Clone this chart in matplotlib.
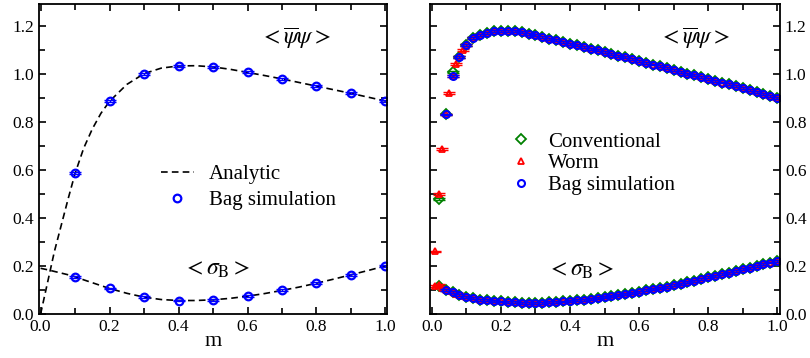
import numpy as np
import matplotlib
matplotlib.use('Agg')
from matplotlib import pyplot
from matplotlib.ticker import MultipleLocator, FormatStrFormatter

#
# data
#

# left panel: analytic curves
m_ana = [0.0, 0.02, 0.04, 0.06, 0.08, 0.10, 0.125, 0.15, 0.175, 0.20, 0.25,
         0.30, 0.35, 0.40, 0.45, 0.50, 0.55, 0.60, 0.65, 0.70, 0.75, 0.80,
         0.85, 0.90, 0.95, 1.00]
psi_ana = [0.0, 0.13, 0.26, 0.37, 0.48, 0.585, 0.69, 0.77, 0.835, 0.885, 0.955,
           1.0, 1.023, 1.032, 1.033, 1.028, 1.018, 1.005, 0.992, 0.978, 0.963,
           0.948, 0.933, 0.918, 0.902, 0.886]
sig_ana = [0.19, 0.184, 0.177, 0.170, 0.163, 0.155, 0.142, 0.130, 0.118, 0.106,
           0.086, 0.070, 0.060, 0.056, 0.056, 0.059, 0.065, 0.074, 0.085, 0.098,
           0.112, 0.128, 0.145, 0.163, 0.181, 0.200]

# left panel: bag simulation
m_bag_l = [0.1, 0.2, 0.3, 0.4, 0.5, 0.6, 0.7, 0.8, 0.9, 1.0]
psi_bag_l = [0.585, 0.885, 1.0, 1.032, 1.028, 1.005, 0.978, 0.948, 0.918, 0.886]
sig_bag_l = [0.155, 0.106, 0.070, 0.056, 0.059, 0.074, 0.098, 0.128, 0.163, 0.200]

# right panel: bag simulation (m = 0.04 ... 1.00, step 0.02)
m_bag_r = [round(0.04 + 0.02 * i, 2) for i in range(49)]
psi_bag_r = [0.83, 0.99, 1.07, 1.12, 1.148, 1.162, 1.170, 1.176, 1.178, 1.178,
             1.176, 1.172, 1.166, 1.160, 1.153, 1.146, 1.139, 1.132, 1.125,
             1.118, 1.111, 1.104, 1.097, 1.090, 1.083, 1.075, 1.068, 1.060,
             1.053, 1.045, 1.038, 1.030, 1.023, 1.015, 1.008, 1.000, 0.993,
             0.985, 0.978, 0.970, 0.963, 0.955, 0.948, 0.940, 0.932, 0.923,
             0.915, 0.906, 0.898]
sig_bag_r = [0.100, 0.090, 0.078, 0.070, 0.065, 0.060, 0.057, 0.054, 0.052,
             0.050, 0.048, 0.047, 0.047, 0.047, 0.047, 0.048, 0.050, 0.052,
             0.054, 0.057, 0.060, 0.063, 0.067, 0.071, 0.075, 0.079, 0.083,
             0.088, 0.093, 0.098, 0.103, 0.109, 0.114, 0.120, 0.126, 0.132,
             0.139, 0.145, 0.152, 0.159, 0.166, 0.172, 0.179, 0.186, 0.193,
             0.200, 0.207, 0.214, 0.222]

# right panel: conventional (m = 0.02 ... 1.00, step 0.02)
m_conv = [0.02] + m_bag_r
psi_conv = [0.48, 0.83, 1.005] + psi_bag_r[2:]
sig_conv = [0.115] + sig_bag_r

# right panel: worm (0.01 ... 0.10 step 0.01, then 0.12 ... 1.00 step 0.02)
m_worm = [0.01, 0.02, 0.03, 0.04, 0.05, 0.06, 0.07, 0.08, 0.09, 0.10] + m_bag_r[4:]
psi_worm = [0.26, 0.50, 0.685, 0.83, 0.92, 0.99, 1.04, 1.07, 1.10, 1.12] + psi_bag_r[4:]
sig_worm = [0.115, 0.12, 0.11, 0.10, 0.095, 0.09, 0.083, 0.078, 0.074, 0.07] + sig_bag_r[4:]

#
# style
#

pyplot.rcParams['font.family'] = ['Liberation Serif', 'DejaVu Serif']
pyplot.rcParams['mathtext.fontset'] = 'stix'

psi_label = r'${<}\overline{\psi}\psi{>}$'
sig_label = r'${<}\sigma_{\rm B}{>}$'


def style_axes(ax, right=False):
    ax.set_xlim(-0.005, 1.005)
    ax.set_ylim(0.0, 1.29)
    ax.xaxis.set_major_locator(MultipleLocator(0.2))
    ax.xaxis.set_minor_locator(MultipleLocator(0.1))
    ax.yaxis.set_major_locator(MultipleLocator(0.2))
    ax.yaxis.set_minor_locator(MultipleLocator(0.1))
    ax.tick_params(which='both', direction='in', top=True, right=True,
                   labelsize=12.5, width=1.2)
    ax.tick_params(which='major', length=5)
    ax.tick_params(which='minor', length=4)
    if right:
        ax.tick_params(labelleft=False, labelright=True)
    ax.xaxis.set_major_formatter(FormatStrFormatter('%.1f'))
    ax.yaxis.set_major_formatter(FormatStrFormatter('%.1f'))
    for s in ax.spines.values():
        s.set_linewidth(1.3)
    ax.set_xlabel('m', fontsize=16, labelpad=-2)


def points(ax, x, y, marker, color, ms, mew, label=None):
    # error bars (tiny) drawn first, markers on top; label only on the markers
    ax.errorbar(x, y, yerr=0.004, fmt='none', ecolor=color, capsize=4,
                elinewidth=1)
    ax.plot(x, y, ls='', marker=marker, ms=ms, mfc='none', mec=color,
            mew=mew, label=label)


#
# figure
#

fig = pyplot.figure(figsize=(8.10, 3.58), dpi=100)
ax1 = fig.add_axes([0.048, 0.123, 0.430, 0.866])
ax2 = fig.add_axes([0.531, 0.123, 0.432, 0.866])

# left panel
ax1.plot(m_ana, psi_ana, color='black', ls=(0, (4, 2.5)), lw=1.2, label='Analytic')
ax1.plot(m_ana, sig_ana, color='black', ls=(0, (4, 2.5)), lw=1.2)
points(ax1, m_bag_l, psi_bag_l, 'o', 'blue', 5.5, 1.6, 'Bag simulation')
points(ax1, m_bag_l, sig_bag_l, 'o', 'blue', 5.5, 1.6)
ax1.text(0.74, 1.15, psi_label, fontsize=17, ha='center', va='center')
ax1.text(0.51, 0.185, sig_label, fontsize=17, ha='center', va='center')
ax1.legend(loc='upper left', bbox_to_anchor=(0.32, 0.515), frameon=False,
           fontsize=15, handlelength=1.6, handletextpad=0.7, labelspacing=0.3,
           borderpad=0)
style_axes(ax1)

# right panel
points(ax2, m_conv, psi_conv, 'D', 'green', 5, 1.3, 'Conventional')
points(ax2, m_conv, sig_conv, 'D', 'green', 5, 1.3)
points(ax2, m_worm, psi_worm, '^', 'red', 5, 1.3, 'Worm')
points(ax2, m_worm, sig_worm, '^', 'red', 5, 1.3)
points(ax2, m_bag_r, psi_bag_r, 'o', 'blue', 5, 1.5, 'Bag simulation')
points(ax2, m_bag_r, sig_bag_r, 'o', 'blue', 5, 1.5)
ax2.text(0.76, 1.15, psi_label, fontsize=17, ha='center', va='center')
ax2.text(0.43, 0.18, sig_label, fontsize=17, ha='center', va='center')
ax2.legend(loc='upper left', bbox_to_anchor=(0.20, 0.62), frameon=False,
           fontsize=15, handlelength=1.0, handletextpad=0.8, labelspacing=0.1,
           borderpad=0)
style_axes(ax2, right=True)
ax2.set_xlim(-0.005, 1.008)

fig.savefig('out.png', dpi=100)
